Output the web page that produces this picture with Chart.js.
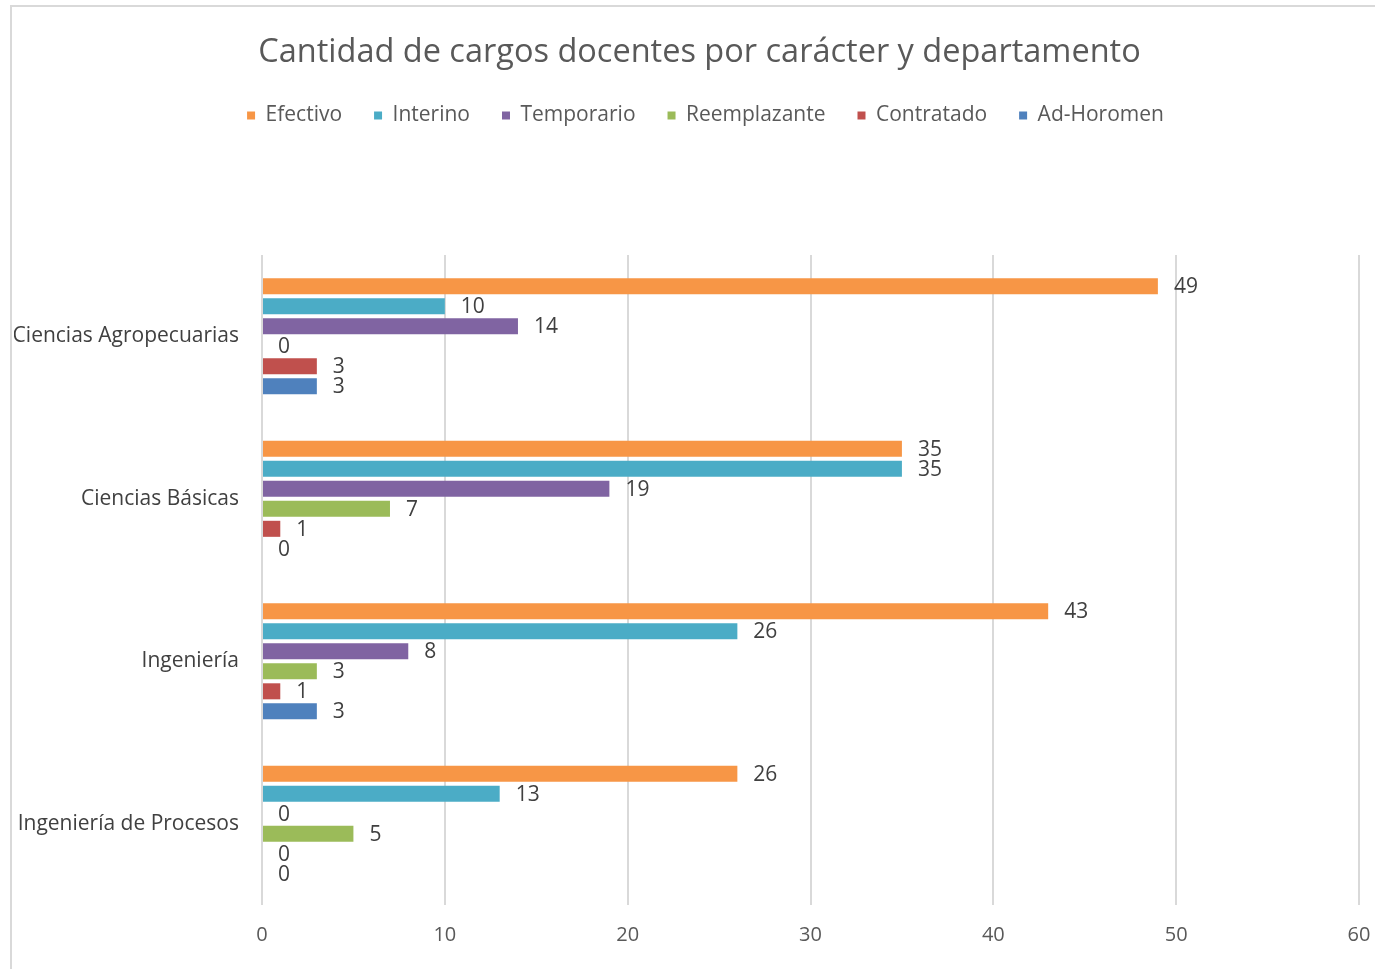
<!DOCTYPE html>
<html>
<head>
<meta charset="utf-8">
<script src="https://cdn.jsdelivr.net/npm/chart.js@4/dist/chart.umd.min.js"></script>
<style>
html,body{margin:0;padding:0;background:#fff;overflow:hidden;}
#wrap{width:1375px;height:969px;position:relative;}
</style>
</head>
<body>
<div id="wrap"><canvas id="c"></canvas></div>
<script>
const categories = ["Ciencias Agropecuarias", "Ciencias Básicas", "Ingeniería", "Ingeniería de Procesos"];
const seriesNames = ["Efectivo", "Interino", "Temporario", "Reemplazante", "Contratado", "Ad-Horomen"];
const efectivo = [49, 35, 43, 26];
const interino = [10, 35, 26, 13];
const temporario = [14, 19, 8, 0];
const reemplazante = [0, 7, 3, 5];
const contratado = [3, 1, 1, 0];
const adHoromen = [3, 0, 3, 0];
const xTicks = [0, 10, 20, 30, 40, 50, 60];
const colors = ["#F79646", "#4BACC6", "#8064A2", "#9BBB59", "#C0504D", "#4F81BD"];
const seriesValues = [efectivo, interino, temporario, reemplazante, contratado, adHoromen];

const FONT = "'Open Sans', 'Noto Sans', sans-serif";

const frame = {
  id: 'frame',
  beforeDraw(chart) {
    const ctx = chart.ctx;
    ctx.save();
    ctx.fillStyle = '#fff';
    ctx.fillRect(0, 0, chart.width, chart.height);
    ctx.strokeStyle = '#d9d9d9';
    ctx.lineWidth = 2;
    ctx.strokeRect(11, 6, 1400, 1000);
    ctx.restore();
    // the reference chart box extends past the right edge, so its title/legend are centred further right
    if (chart.titleBlock && !chart.titleBlock._shifted) {
      chart.titleBlock.left += 13; chart.titleBlock.right += 13; chart.titleBlock._shifted = true;
    }
    if (chart.legend && !chart.legend._shifted) {
      chart.legend.left += 19; chart.legend.right += 19; chart.legend._shifted = true;
    }
  }
};

const legendMargin = {
  id: 'legendMargin',
  beforeInit(chart) {
    const orig = chart.legend.fit;
    chart.legend.fit = function () {
      orig.bind(chart.legend)();
      this.height += 119;
    };
  }
};

const valueLabels = {
  id: 'valueLabels',
  afterDatasetsDraw(chart) {
    const ctx = chart.ctx;
    ctx.save();
    ctx.font = "21px " + FONT;
    ctx.fillStyle = '#404040';
    ctx.textAlign = 'left';
    ctx.textBaseline = 'middle';
    chart.data.datasets.forEach((ds, i) => {
      const meta = chart.getDatasetMeta(i);
      meta.data.forEach((el, j) => {
        ctx.fillText(String(ds.data[j]), el.x + 16, el.y + 1);
      });
    });
    ctx.restore();
  }
};

function build() {
  new Chart(document.getElementById('c'), {
    type: 'bar',
    data: {
      labels: categories,
      datasets: seriesNames.map((n, i) => ({
        label: n,
        data: seriesValues[i],
        backgroundColor: colors[i],
        borderWidth: 0,
        categoryPercentage: 0.74,
        barPercentage: 0.8
      }))
    },
    options: {
      indexAxis: 'y',
      responsive: true,
      maintainAspectRatio: false,
      animation: false,
      layout: { padding: { left: 14, right: 16, top: 33, bottom: 0 } },
      scales: {
        x: {
          min: 0, max: 60,
          afterBuildTicks(axis) { axis.ticks = xTicks.map(v => ({ value: v })); },
          afterFit(axis) { axis.height = 64; axis.paddingRight = 0; axis.paddingLeft = 0; },
          grid: { color: '#d9d9d9', lineWidth: 2, drawTicks: false },
          border: { display: false },
          ticks: { color: '#595959', font: { family: FONT, size: 20 }, padding: 18, maxRotation: 0 }
        },
        y: {
          afterFit(axis) { axis.width = 248; },
          grid: { display: false, drawTicks: false },
          border: { display: false },
          ticks: { color: '#404040', font: { family: FONT, size: 21 }, padding: 23 }
        }
      },
      plugins: {
        title: {
          display: true,
          text: 'Cantidad de cargos docentes por carácter y departamento',
          color: '#595959',
          font: { family: FONT, size: 32.5, weight: 'normal' },
          padding: { top: 0, bottom: 1 }
        },
        legend: {
          display: true,
          labels: {
            color: '#595959',
            font: { family: FONT, size: 21 },
            boxWidth: 8,
            boxHeight: 8,
            padding: 32
          }
        },
        tooltip: { enabled: false }
      }
    },
    plugins: [frame, legendMargin, valueLabels]
  });
}

Promise.all([
  document.fonts.load("20px 'Open Sans'"),
  document.fonts.load("32px 'Open Sans'")
]).then(build, build);
</script>
</body>
</html>
